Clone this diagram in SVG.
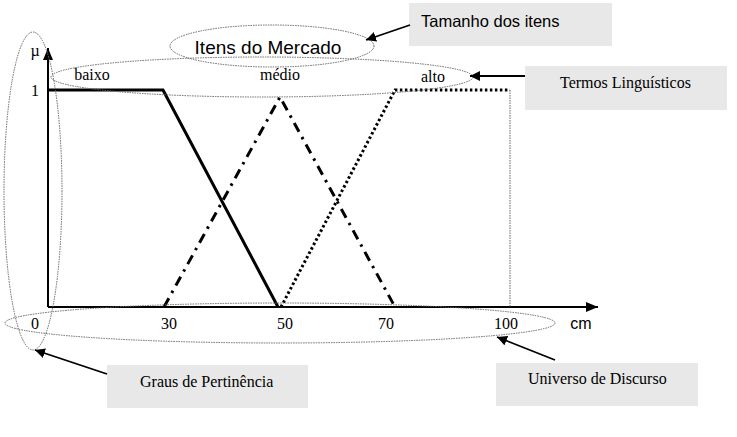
<svg xmlns="http://www.w3.org/2000/svg" width="737" height="437" viewBox="0 0 737 437">
<defs>
<marker id="ah" viewBox="0 0 10 10" refX="10" refY="5" markerWidth="10" markerHeight="10" markerUnits="userSpaceOnUse" orient="auto">
<path d="M0,0 L10,5 L0,10 z" fill="#000"/>
</marker>
<marker id="axh" viewBox="0 0 12 10" refX="12" refY="5" markerWidth="12" markerHeight="10" markerUnits="userSpaceOnUse" orient="auto">
<path d="M0,0 L12,5 L0,10 z" fill="#000"/>
</marker>
<style>
.box{fill:#e8e8e8;stroke:none}
.ell{fill:none;stroke:#666;stroke-width:1;stroke-dasharray:1.5 1}
.axis{fill:none;stroke:#000;stroke-width:2}
.tr{font-family:"Liberation Serif","Times New Roman",serif;font-size:16px;fill:#000}
.sa{font-family:"Liberation Sans",Arial,sans-serif;fill:#000}
.arr{stroke:#000;stroke-width:1.8;fill:none;marker-end:url(#ah)}
.mf{fill:none;stroke:#000;stroke-width:3}
</style>
</defs>
<rect width="737" height="437" fill="#fff"/>

<g id="plot">
<line class="axis" x1="48" y1="307" x2="48" y2="48" marker-end="url(#axh)"/>
<line class="axis" x1="48" y1="307" x2="598" y2="307" marker-end="url(#axh)"/>
<line x1="510" y1="90" x2="510" y2="307" stroke="#666" stroke-width="1" stroke-dasharray="1.5 1"/>
<g id="baixo-curve"><polyline class="mf" points="48,90 163,90 278,307"/></g>
<g id="medio-curve"><polyline class="mf" points="164,307 280,97 395,307" stroke-dasharray="10 6 2.5 6"/></g>
<g id="alto-curve"><polyline class="mf" points="281,307 395,90 510,90" stroke-dasharray="2.5 2.5"/></g>
<text class="tr" x="35" y="56" text-anchor="middle">µ</text>
<text class="tr" x="35" y="96" text-anchor="middle">1</text>
<text class="tr" x="92" y="80" text-anchor="middle">baixo</text>
<text class="tr" x="280" y="80" text-anchor="middle">médio</text>
<text class="tr" x="433" y="82" text-anchor="middle">alto</text>
<text class="tr" x="35" y="329" text-anchor="middle">0</text>
<text class="tr" x="169" y="329" text-anchor="middle">30</text>
<text class="tr" x="285" y="329" text-anchor="middle">50</text>
<text class="tr" x="386" y="329" text-anchor="middle">70</text>
<text class="tr" x="506" y="329" text-anchor="middle">100</text>
<text class="sa" x="581" y="329" font-size="16" text-anchor="middle">cm</text>
</g>

<g id="mercado">
<ellipse class="ell" cx="272" cy="46" rx="102" ry="21"/>
<text class="sa" x="268" y="54" font-size="19" text-anchor="middle">Itens do Mercado</text>
</g>
<g id="termos-ellipse"><ellipse class="ell" cx="262" cy="77" rx="211" ry="20"/></g>
<g id="universo-ellipse"><ellipse class="ell" cx="280" cy="323" rx="275" ry="20"/></g>
<g id="graus-ellipse"><ellipse class="ell" cx="33" cy="191" rx="29" ry="159"/></g>

<g id="tamanho">
<rect class="box" x="409" y="3" width="203" height="43"/>
<text class="sa" x="421" y="27" font-size="16.5">Tamanho dos itens</text>
</g>
<g id="termos">
<rect class="box" x="525" y="66" width="202" height="44"/>
<text class="tr" x="560" y="88">Termos Linguísticos</text>
</g>
<g id="graus">
<rect class="box" x="107" y="365" width="201" height="43"/>
<text class="tr" x="140" y="387">Graus de Pertinência</text>
</g>
<g id="universo">
<rect class="box" x="496" y="363" width="202" height="43"/>
<text class="tr" x="528" y="384">Universo de Discurso</text>
</g>

<g id="connectors">
<line class="arr" x1="410" y1="25" x2="366" y2="40"/>
<line class="arr" x1="525" y1="76" x2="470" y2="76"/>
<line class="arr" x1="107" y1="374" x2="35" y2="350"/>
<line class="arr" x1="555" y1="360" x2="497" y2="337"/>
</g>
</svg>
